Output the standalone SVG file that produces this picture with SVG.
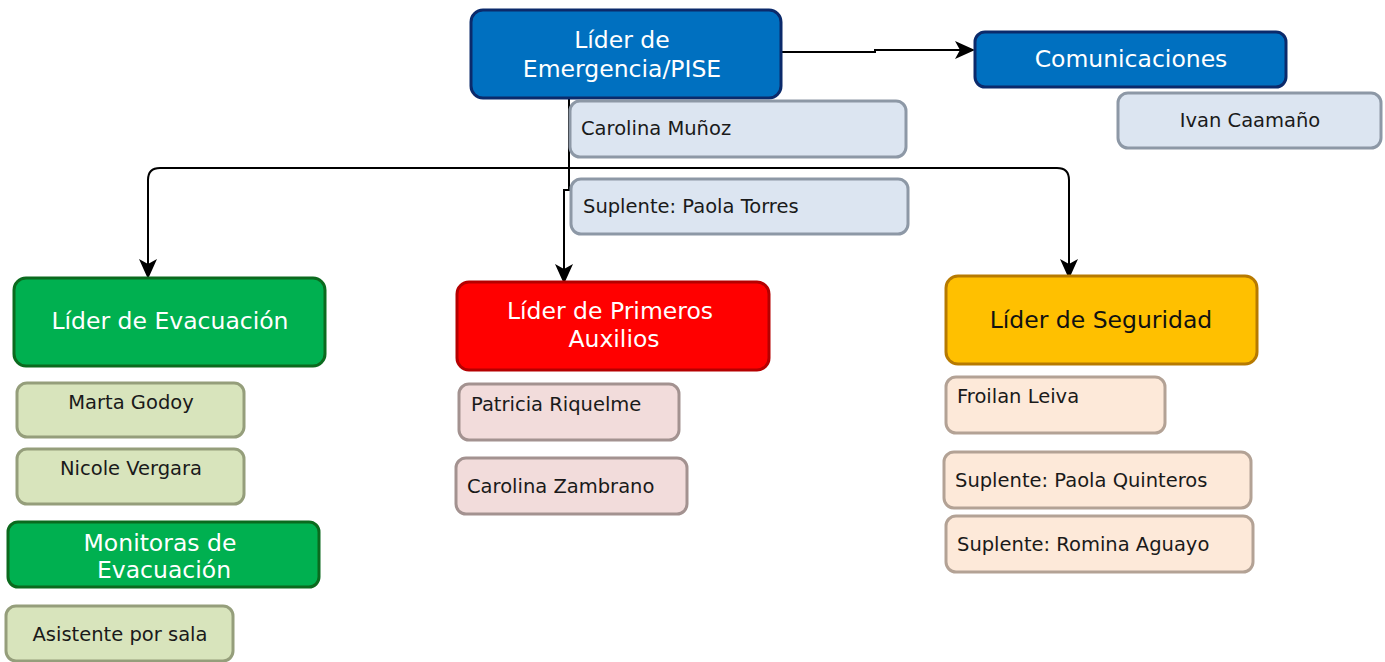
<svg xmlns="http://www.w3.org/2000/svg" width="1385" height="662" viewBox="0 0 1385 662">
<defs>
<marker id="arrB" markerWidth="20" markerHeight="20" refX="18" refY="10" orient="auto" markerUnits="userSpaceOnUse" viewBox="0 0 20 20">
<path d="M0,1 L20,10 L0,19 L5,10 z" fill="#000"/>
</marker>
<style>
text{font-family:"DejaVu Sans","Liberation Sans",sans-serif}
.t{font-size:23.5px;fill:#fff;text-anchor:middle}
.n{font-size:19.5px;fill:#1a1a1a}
.c{text-anchor:middle}
.blue{fill:#0070C0;stroke:#0B2A6B;stroke-width:3}
.green{fill:#00B050;stroke:#0B6A1E;stroke-width:3}
.red{fill:#FF0000;stroke:#B50000;stroke-width:3}
.gold{fill:#FFC000;stroke:#B77A00;stroke-width:3}
.lb{fill:#DCE5F1;stroke:#8D98A6;stroke-width:3}
.lg{fill:#D8E4BC;stroke:#959E7B;stroke-width:3}
.lr{fill:#F2DCDB;stroke:#A39290;stroke-width:3}
.lo{fill:#FDE9D9;stroke:#B3A295;stroke-width:3}
.con{fill:none;stroke:#000;stroke-width:2}
</style>
</defs>
<g id="connectors">
<path class="con" d="M781,52 L875,52 L875,50 L973,50" marker-end="url(#arrB)"/>
<path class="con" d="M569,98 L569,190 L564,190 L564,282" marker-end="url(#arrB)"/>
<path class="con" d="M569,168 L160,168 Q148,168 148,180 L148,277" marker-end="url(#arrB)"/>
<path class="con" d="M569,168 L1057,168 Q1069,168 1069,180 L1069,277" marker-end="url(#arrB)"/>
</g>
<g id="lider-emergencia">
<rect class="blue" x="471" y="10" width="310" height="88" rx="12"/>
<text class="t" x="622" y="48">Líder de</text>
<text class="t" x="622" y="77">Emergencia/PISE</text>
</g>
<g id="carolina-munoz">
<rect class="lb" x="570" y="101" width="336" height="56" rx="10"/>
<text class="n" x="581" y="135">Carolina Muñoz</text>
</g>
<g id="paola-torres">
<rect class="lb" x="571" y="179" width="337" height="55" rx="10"/>
<text class="n" x="583" y="213">Suplente: Paola Torres</text>
</g>
<g id="comunicaciones">
<rect class="blue" x="975" y="32" width="311" height="55" rx="10"/>
<text class="t" x="1131" y="67">Comunicaciones</text>
</g>
<g id="ivan-caamano">
<rect class="lb" x="1118" y="93" width="263" height="55" rx="10"/>
<text class="n c" x="1250" y="127">Ivan Caamaño</text>
</g>
<g id="lider-evacuacion">
<rect class="green" x="14" y="278" width="311" height="88" rx="12"/>
<text class="t" x="170" y="329">Líder de Evacuación</text>
</g>
<g id="marta-godoy">
<rect class="lg" x="17" y="383" width="227" height="54" rx="10"/>
<text class="n c" x="131" y="409">Marta Godoy</text>
</g>
<g id="nicole-vergara">
<rect class="lg" x="17" y="449" width="227" height="55" rx="10"/>
<text class="n c" x="131" y="475">Nicole Vergara</text>
</g>
<g id="monitoras">
<rect class="green" x="8" y="522" width="311" height="65" rx="10"/>
<text class="t" x="160" y="551">Monitoras de</text>
<text class="t" x="164" y="578">Evacuación</text>
</g>
<g id="asistente">
<rect class="lg" x="6" y="606" width="227" height="55" rx="10"/>
<text class="n c" x="120" y="641">Asistente por sala</text>
</g>
<g id="lider-primeros-auxilios">
<rect class="red" x="457" y="282" width="312" height="88" rx="12"/>
<text class="t" x="610" y="319">Líder de Primeros</text>
<text class="t" x="614" y="347">Auxilios</text>
</g>
<g id="patricia-riquelme">
<rect class="lr" x="459" y="384" width="220" height="56" rx="10"/>
<text class="n" x="471" y="411">Patricia Riquelme</text>
</g>
<g id="carolina-zambrano">
<rect class="lr" x="456" y="458" width="231" height="56" rx="10"/>
<text class="n" x="467" y="493">Carolina Zambrano</text>
</g>
<g id="lider-seguridad">
<rect class="gold" x="946" y="276" width="311" height="88" rx="12"/>
<text class="t" x="1101" y="328" style="fill:#111">Líder de Seguridad</text>
</g>
<g id="froilan-leiva">
<rect class="lo" x="946" y="377" width="219" height="56" rx="10"/>
<text class="n" x="957" y="403">Froilan Leiva</text>
</g>
<g id="paola-quinteros">
<rect class="lo" x="944" y="452" width="307" height="56" rx="10"/>
<text class="n" x="955" y="487">Suplente: Paola Quinteros</text>
</g>
<g id="romina-aguayo">
<rect class="lo" x="946" y="516" width="307" height="56" rx="10"/>
<text class="n" x="957" y="551">Suplente: Romina Aguayo</text>
</g>
</svg>
